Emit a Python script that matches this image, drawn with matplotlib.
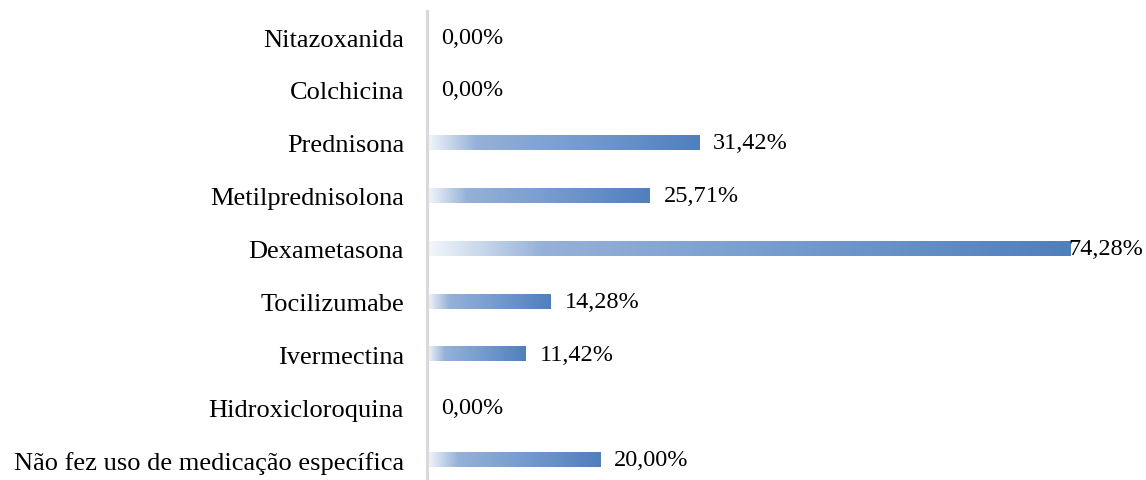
import numpy as np
import matplotlib
matplotlib.use("Agg")
import matplotlib.pyplot as plt
from matplotlib.colors import LinearSegmentedColormap

categorias = ["Não fez uso de medicação específica", "Hidroxicloroquina", "Ivermectina",
              "Tocilizumabe", "Dexametasona", "Metilprednisolona", "Prednisona",
              "Colchicina", "Nitazoxanida"]
valores = [20.00, 0.00, 11.42, 14.28, 74.28, 25.71, 31.42, 0.00, 0.00]
rotulos = ["20,00%", "0,00%", "11,42%", "14,28%", "74,28%", "25,71%", "31,42%", "0,00%", "0,00%"]

plt.rcParams["font.family"] = ["Liberation Serif", "DejaVu Serif"]

fig = plt.figure(figsize=(11.46, 4.81), dpi=100)
ax = fig.add_axes([427 / 1146, -6.4 / 481, 719 / 1146, 475.8 / 481])

cmap = LinearSegmentedColormap.from_list(
    "grad", [(0, "#f4f7fb"), (0.18, "#95b1d8"), (0.55, "#769ccf"), (1, "#4f7fbd")])
grad = np.linspace(0, 1, 256).reshape(1, -1)

y = np.arange(len(categorias))
bars = ax.barh(y, valores, height=0.27, color="none", edgecolor="none")
for b in bars:
    bb = b.get_bbox()
    if bb.width > 0:
        ax.imshow(grad, cmap=cmap, aspect="auto", interpolation="bilinear",
                  extent=[bb.x0, bb.x1, bb.y0, bb.y1], zorder=2)

xmax = 83
for yi, v, t in zip(y, valores, rotulos):
    # o maior rótulo fica encostado na barra, como no original
    off = -2 if v == max(valores) else 14
    ax.annotate(t, (v, yi), xytext=(off * 0.72, 0), textcoords="offset points",
                va="center", ha="left", fontsize=17.5, color="#000000", zorder=3)

ax.set_xlim(0, xmax)
ax.set_ylim(-0.5, len(categorias) - 0.5)
ax.set_yticks(y)
ax.set_yticklabels(categorias, fontsize=19)
ax.tick_params(axis="y", length=0, pad=16.5)
ax.set_xticks([])
for s in ["top", "right", "bottom"]:
    ax.spines[s].set_visible(False)
ax.spines["left"].set_color("#d9d9d9")
ax.spines["left"].set_linewidth(2.2)

fig.savefig("out.png", dpi=100)
